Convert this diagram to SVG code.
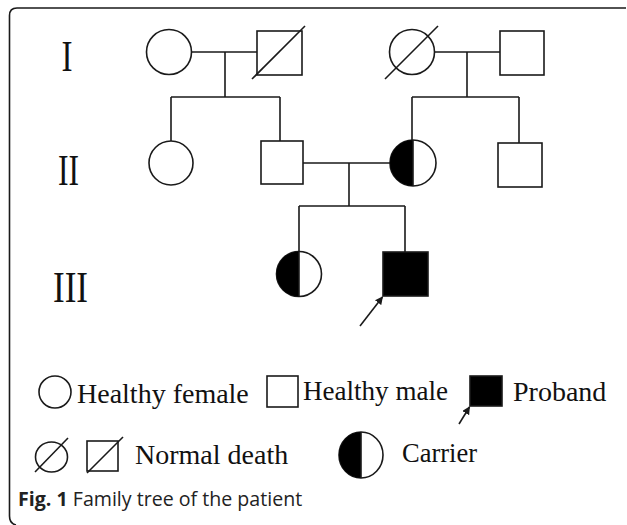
<svg xmlns="http://www.w3.org/2000/svg" width="627" height="525" viewBox="0 0 627 525">
<style>
.ln{fill:none;stroke:#1a1a1a;stroke-width:1.6}
.nd{fill:#fff;stroke:#1a1a1a;stroke-width:1.6}
.blk{fill:#000;stroke:#1a1a1a;stroke-width:1.6}
.half{fill:#000;stroke:none}
.gen{font-family:"Liberation Serif","Times New Roman",serif;font-size:44px;fill:#111}
.lg{font-family:"Liberation Serif","Times New Roman",serif;font-size:28px;fill:#111}
.cap{font-family:"Open Sans","Noto Sans",sans-serif;font-size:19.6px;fill:#222}
</style>
<defs>
<marker id="ah" viewBox="0 0 10 10" refX="9" refY="5" markerWidth="5" markerHeight="5" orient="auto" markerUnits="strokeWidth">
<path d="M0,0 L10,5 L0,10 Z" fill="#1a1a1a"/>
</marker>
</defs>
<rect width="627" height="525" fill="#fff"/>
<path class="ln" d="M626,8 H17 Q9.5,8 9.5,15.5 V516 Q9.5,523.5 16,525" stroke-width="1.5"/>

<g id="gen-labels">
<text class="gen" x="67" y="71" text-anchor="middle" textLength="11" lengthAdjust="spacingAndGlyphs">I</text>
<text class="gen" x="68.5" y="185" text-anchor="middle" textLength="21" lengthAdjust="spacingAndGlyphs">II</text>
<text class="gen" x="70.5" y="302" text-anchor="middle" textLength="35" lengthAdjust="spacingAndGlyphs">III</text>
</g>

<g id="connectors">
<path class="ln" d="M192,52 H257 M225,52 V97 M171,97 H280 M171,97 V141 M280,97 V141"/>
<path class="ln" d="M434.5,52 H500 M467,52 V97 M412,97 H519 M412,97 V140 M519,97 V143"/>
<path class="ln" d="M303,163 H390 M349,163 V206 M299,206 H405 M299,206 V251.5 M405,206 V252"/>
<line class="ln" x1="360" y1="326" x2="382.5" y2="297" marker-end="url(#ah)"/>
</g>

<g id="I-1"><circle class="nd" cx="169" cy="52" r="22.5"/></g>
<g id="I-2"><rect class="nd" x="257" y="31" width="45" height="44"/><line class="ln" x1="252" y1="79" x2="305" y2="26"/></g>
<g id="I-3"><circle class="nd" cx="412" cy="52" r="22.5"/><line class="ln" x1="385" y1="79" x2="438" y2="26"/></g>
<g id="I-4"><rect class="nd" x="500" y="31" width="44" height="44"/></g>

<g id="II-1"><circle class="nd" cx="171" cy="163" r="22"/></g>
<g id="II-2"><rect class="nd" x="261" y="141" width="42" height="43"/></g>
<g id="II-3"><circle class="nd" cx="413" cy="163" r="23"/><path class="half" d="M413,140 A23,23 0 0 0 413,186 Z"/><line class="ln" x1="413" y1="140" x2="413" y2="186"/></g>
<g id="II-4"><rect class="nd" x="498" y="143" width="44" height="44"/></g>

<g id="III-1"><circle class="nd" cx="299" cy="274" r="22.5"/><path class="half" d="M299,251.5 A22.5,22.5 0 0 0 299,296.5 Z"/><line class="ln" x1="299" y1="251.5" x2="299" y2="296.5"/></g>
<g id="III-2"><rect class="blk" x="383" y="252" width="45" height="44"/></g>

<g id="legend">
<circle class="nd" cx="55" cy="392" r="16"/>
<text class="lg" x="77" y="403">Healthy female</text>
<rect class="nd" x="267" y="376" width="31" height="31"/>
<text class="lg" x="303" y="400" textLength="145" lengthAdjust="spacingAndGlyphs">Healthy male</text>
<rect class="blk" x="470" y="376" width="32" height="30"/>
<line class="ln" x1="459" y1="424" x2="469.5" y2="407" marker-end="url(#ah)"/>
<text class="lg" x="513" y="401">Proband</text>
<ellipse class="nd" cx="51.5" cy="457" rx="16" ry="15"/>
<line class="ln" x1="35" y1="472" x2="68" y2="438"/>
<rect class="nd" x="87" y="441" width="31" height="30"/>
<line class="ln" x1="87" y1="473" x2="123" y2="437"/>
<text class="lg" x="135" y="464">Normal death</text>
<ellipse class="nd" cx="361" cy="455" rx="22" ry="23"/>
<path class="half" d="M361,432 A22,23 0 0 0 361,478 Z"/>
<line class="ln" x1="361" y1="432" x2="361" y2="478"/>
<text class="lg" x="402" y="462" textLength="75" lengthAdjust="spacingAndGlyphs">Carrier</text>
</g>

<g id="caption">
<text class="cap" x="18" y="506"><tspan font-weight="bold">Fig. 1</tspan> Family tree of the patient</text>
</g>
</svg>
